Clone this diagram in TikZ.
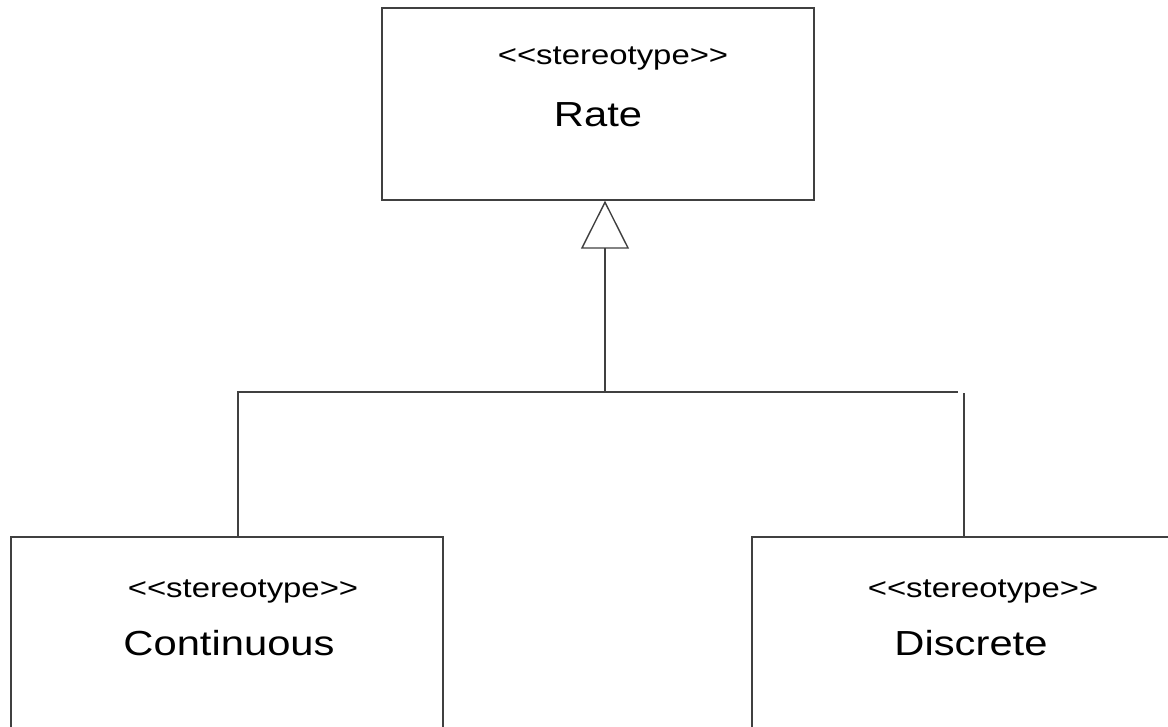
\documentclass[tikz,border=0pt]{standalone}
\usepackage{fontspec}
\setmainfont[FakeStretch=1.2]{Liberation Sans}
\usepackage{tikz}
\usetikzlibrary{arrows.meta,positioning}
\newcommand{\sterlabel}{<\kern0pt<stereotype>\kern0pt>}

\begin{document}
\begin{tikzpicture}[
    x=0.02cm, y=-0.02cm,
    classbox/.style={rectangle, draw=black!75, line width=0.8pt, minimum width=8.64cm, minimum height=3.84cm, inner sep=0pt},
    stereo/.style={anchor=base, inner sep=0pt, font=\fontsize{15.6}{18}\selectfont},
    classname/.style={anchor=base, inner sep=0pt, font=\fontsize{19.8}{24}\selectfont},
    wire/.style={draw=black!75, line width=0.8pt}
]
\useasboundingbox (0,0) rectangle (1168,726);
\clip (0,0) rectangle (1168,726);

% Rate
\node[classbox] (rate) at (598,104) {};
\node[stereo] (ratest) at (613,65) {\sterlabel};
\node[classname] (ratename) at (598,127) {Rate};

% Continuous
\node[classbox, minimum height=4cm] (cont) at (227,637) {};
\node[stereo] (contst) at (243,597) {\sterlabel};
\node[classname] (contname) at (229,655) {Continuous};

% Discrete
\node[classbox, minimum height=4cm] (disc) at (968,637) {};
\node[stereo] (discst) at (983,597) {\sterlabel};
\node[classname] (discname) at (971,655) {Discrete};

% Connections
\coordinate (hub) at (605,392);
\coordinate (joinL) at (238,392);
\coordinate (joinR) at (958,392);
\coordinate (dropR) at (964,393);
\draw[wire, -{Triangle[open, length=0.96cm, width=0.96cm]}] (hub) -- (rate.south -| hub);
\draw[wire] (cont.north -| joinL) -- (joinL) -- (joinR);
\draw[wire] (disc.north -| dropR) -- (dropR);

\end{tikzpicture}
\end{document}
